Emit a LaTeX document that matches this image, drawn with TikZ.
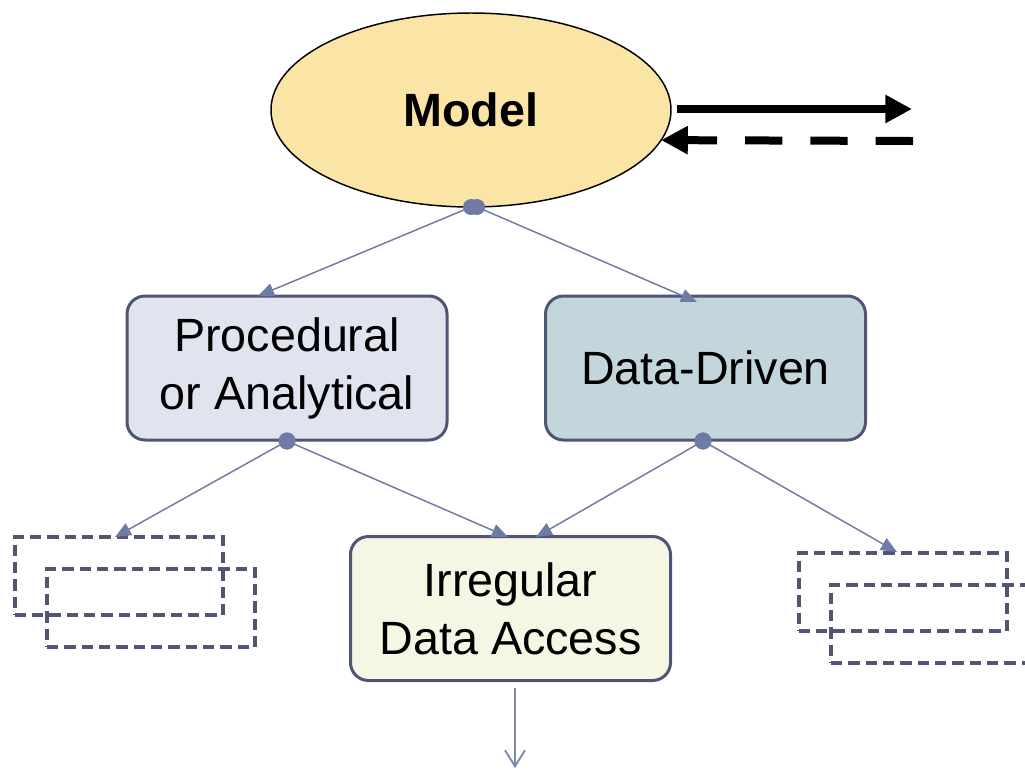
\documentclass[tikz,border=0pt]{standalone}
\usepackage{fontspec}
\setmainfont{Liberation Sans}
\usetikzlibrary{arrows.meta,shapes.geometric}

\definecolor{modelfill}{HTML}{FAE4A6}
\definecolor{procfill}{HTML}{E1E4EE}
\definecolor{datafill}{HTML}{C2D6DC}
\definecolor{irrfill}{HTML}{F5F6E3}
\definecolor{boxline}{HTML}{4F5675}
\definecolor{link}{HTML}{6F7AA5}
\definecolor{linklight}{HTML}{8088B0}

\tikzset{
  label font/.style={font=\fontsize{35pt}{43.5pt}\selectfont},
  kind box/.style={rectangle, rounded corners=13.5pt, draw=boxline, line width=2.25pt,
    minimum width=240pt, minimum height=108pt, inner sep=0pt, outer sep=0pt,
    align=center, label font},
  ghost box/.style={rectangle, draw=boxline, line width=3pt,
    dash pattern=on 8.5pt off 4.5pt, minimum width=156pt, minimum height=59pt,
    inner sep=0pt, outer sep=0pt},
  link line/.style={draw=link, line width=1.1pt,
    -{Triangle[length=12pt,width=10pt]}},
  joint/.style={circle, fill=link, minimum size=11pt, inner sep=0pt},
  flow/.style={line width=6pt, -{Triangle[length=20pt,width=20pt]}},
}

\begin{document}
\begin{tikzpicture}[x=0.75pt,y=-0.75pt]
\useasboundingbox (0,0) rectangle (1025,769);

% top model
\node[ellipse, draw=black, line width=1.1pt, fill=modelfill,
      minimum width=300pt, minimum height=145.5pt, inner sep=0pt, outer sep=0pt,
      font=\fontsize{35pt}{43.5pt}\selectfont\bfseries]
  (model) at (471,110) {Model};

% outgoing and incoming flows
\coordinate (outS) at (677,109);
\coordinate (outE) at (912,109);
\coordinate (inS) at (913,141);
\draw[flow] (outS) -- (outE);
\draw[flow, dash pattern=on 28pt off 21pt] (inS) -- (model.-9.3);

% two kinds of model
\node[kind box, fill=procfill] (proc) at (287,368) {Procedural\\or Analytical};
\node[kind box, fill=datafill] (data) at (705.5,368) {Data-Driven};
\node[kind box, fill=irrfill] (irr) at (510.5,608.5) {Irregular\\Data Access};

% placeholder boxes
\node[ghost box] (gl1) at (118.5,576) {};
\node[ghost box] (gl2) at (151,608) {};
\node[ghost box] (gr1) at (902.5,592) {};
\node[ghost box] (gr2) at (935,624) {};

% branch points
\node[joint] (jm1) at (471,207) {};
\node[joint] (jm2) at (477,207) {};
\node[joint] (jp) at (287,441) {};
\node[joint] (jd) at (703,441) {};

% arrow ends
\coordinate (tProc) at (258,296);
\coordinate (tData) at (697,302);
\coordinate (tGL) at (115,537);
\coordinate (tIrrL) at (508,537);
\coordinate (tIrrR) at (536,537);
\coordinate (tGR) at (897,552);
\coordinate (bS) at (515,688);
\coordinate (bE) at (515,768);

\draw[link line] (jm1.center) -- (tProc);
\draw[link line] (jm2.center) -- (tData);
\draw[link line] (jp.center) -- (tGL);
\draw[link line] (jp.center) -- (tIrrL);
\draw[link line] (jd.center) -- (tIrrR);
\draw[link line] (jd.center) -- (tGR);

% redraw joints over the lines
\fill[link] (jm1) circle (6pt);
\fill[link] (jm2) circle (6pt);
\fill[link] (jp) circle (6.5pt);
\fill[link] (jd) circle (6.5pt);

\draw[draw=linklight, line width=1.4pt, -{Straight Barb[length=12pt,width=15pt]}] (bS) -- (bE);
\end{tikzpicture}
\end{document}
